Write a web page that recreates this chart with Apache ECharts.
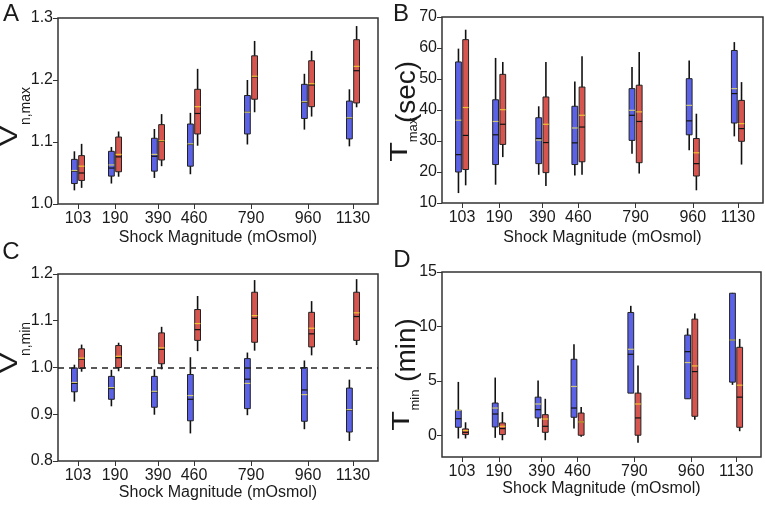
<!DOCTYPE html>
<html>
<head>
<meta charset="utf-8">
<script src="https://cdn.jsdelivr.net/npm/echarts@6/dist/echarts.min.js"></script>
<style>html,body{margin:0;padding:0;background:#fff}#c{width:765px;height:506px}</style>
</head>
<body>
<div id="c"></div>
<script>
// ---------- DATA ----------
const categories = ['103', '190', '390', '460', '790', '960', '1130'];
// each row: [lower whisker, Q1, median, Q3, upper whisker, mean]
const vnMaxBlue = [
  [1.022, 1.033, 1.053, 1.072, 1.085, 1.054],
  [1.033, 1.045, 1.058, 1.085, 1.092, 1.063],
  [1.042, 1.053, 1.077, 1.106, 1.121, 1.080],
  [1.048, 1.061, 1.096, 1.129, 1.147, 1.097],
  [1.096, 1.113, 1.148, 1.175, 1.200, 1.148],
  [1.120, 1.138, 1.164, 1.193, 1.210, 1.165],
  [1.093, 1.105, 1.138, 1.166, 1.185, 1.139]
];
const vnMaxRed = [
  [1.026, 1.038, 1.050, 1.078, 1.097, 1.061],
  [1.044, 1.052, 1.076, 1.108, 1.117, 1.080],
  [1.061, 1.071, 1.101, 1.128, 1.145, 1.102],
  [1.094, 1.113, 1.146, 1.185, 1.218, 1.157],
  [1.148, 1.169, 1.205, 1.239, 1.263, 1.206],
  [1.141, 1.157, 1.192, 1.231, 1.247, 1.194],
  [1.156, 1.163, 1.215, 1.265, 1.287, 1.222]
];
const tMaxBlue = [
  [13.2, 20.0, 25.6, 55.5, 59.8, 36.7],
  [15.9, 22.4, 32.0, 43.3, 56.8, 36.3],
  [19.1, 22.7, 30.8, 37.5, 41.2, 30.3],
  [18.9, 22.4, 29.4, 41.2, 49.2, 34.2],
  [25.9, 30.2, 38.3, 46.9, 53.9, 39.9],
  [27.0, 32.0, 36.5, 50.1, 56.0, 41.5],
  [31.5, 35.8, 45.3, 59.2, 61.9, 46.9]
];
const tMaxRed = [
  [15.7, 20.8, 31.8, 62.7, 65.9, 40.8],
  [24.8, 28.9, 35.4, 51.5, 55.5, 40.1],
  [15.5, 19.8, 29.5, 44.2, 55.5, 35.4],
  [19.1, 23.3, 34.5, 47.4, 57.3, 38.3],
  [19.5, 23.0, 36.3, 48.0, 58.7, 39.4],
  [14.1, 18.7, 22.7, 30.8, 38.8, 26.2],
  [22.4, 29.9, 34.0, 43.1, 49.0, 35.6]
];
const vnMinBlue = [
  [0.927, 0.948, 0.966, 0.999, 1.006, 0.968],
  [0.917, 0.932, 0.955, 0.981, 0.995, 0.957],
  [0.899, 0.915, 0.948, 0.981, 0.996, 0.949],
  [0.859, 0.886, 0.932, 0.985, 1.022, 0.940],
  [0.898, 0.912, 0.975, 1.019, 1.032, 0.966],
  [0.868, 0.885, 0.952, 1.000, 1.015, 0.942],
  [0.843, 0.862, 0.909, 0.956, 0.974, 0.910]
];
const vnMinRed = [
  [0.991, 0.998, 1.018, 1.040, 1.049, 1.020],
  [0.992, 1.000, 1.021, 1.047, 1.053, 1.024],
  [0.996, 1.008, 1.039, 1.074, 1.087, 1.042],
  [1.035, 1.058, 1.081, 1.124, 1.153, 1.094],
  [1.036, 1.054, 1.105, 1.161, 1.187, 1.111],
  [1.026, 1.044, 1.072, 1.118, 1.142, 1.084],
  [1.048, 1.058, 1.109, 1.161, 1.189, 1.117]
];
const tMinBlue = [
  [-0.30, 0.73, 1.52, 2.29, 4.90, 2.30],
  [-0.24, 0.76, 1.95, 2.96, 5.30, 2.50],
  [0.76, 1.59, 2.35, 3.50, 5.03, 2.87],
  [0.61, 1.65, 2.50, 6.98, 8.35, 4.48],
  [3.87, 3.87, 7.44, 11.28, 11.89, 7.90],
  [3.35, 3.35, 7.68, 9.20, 9.82, 6.68],
  [4.63, 4.88, 8.75, 13.05, 13.08, 8.75]
];
const tMinRed = [
  [-0.30, 0.06, 0.27, 0.58, 1.19, 0.43],
  [-0.46, 0.06, 0.61, 1.13, 2.13, 0.82],
  [-0.46, 0.27, 0.82, 1.89, 3.35, 1.49],
  [-0.15, 0.00, 1.22, 2.04, 2.59, 1.22],
  [-0.70, 0.00, 1.59, 3.87, 6.40, 2.87],
  [1.43, 1.74, 5.85, 10.67, 11.19, 6.37],
  [0.37, 0.73, 3.50, 8.08, 8.85, 4.60]
];
const yTicksA = [1.0, 1.1, 1.2, 1.3];
const yTicksB = [10, 20, 30, 40, 50, 60, 70];
const yTicksC = [0.8, 0.9, 1.0, 1.1, 1.2];
const yTicksD = [0, 5, 10, 15];
const refLineC = 1.0;

// ---------- LAYOUT ----------
// horizontal slot of each category on a 0..32 x scale (non-uniform spacing as in the figure)
const slotPos = [2.0, 5.7, 10.0, 13.6, 19.3, 25.0, 29.5];
const FONT = 'Liberation Sans, Arial, sans-serif';
const TXT = '#1a1a1a';
const BLUE = '#5b62e6', RED = '#d6554f';
const MEAN_BLUE = '#cfc67a', MEAN_RED = '#f5c030';

const panels = [
  {grid: {left: 58, top: 18, width: 320, height: 186}, y: [1.0, 1.3], ticks: yTicksA, dec: 1, blue: vnMaxBlue, red: vnMaxRed, gap: 26},
  {grid: {left: 442, top: 17, width: 321, height: 186}, y: [10, 70], ticks: yTicksB, dec: 0, blue: tMaxBlue, red: tMaxRed, gap: 27},
  {grid: {left: 58, top: 274, width: 320, height: 187}, y: [0.8, 1.2], ticks: yTicksC, dec: 1, blue: vnMinBlue, red: vnMinRed, gap: 21},
  {grid: {left: 442, top: 272, width: 319, height: 185}, y: [-2, 15], ticks: yTicksD, dec: 0, blue: tMinBlue, red: tMinRed, gap: 24}
];

function makeRender(dx, fill, meanColor) {
  return function (params, api) {
    const x = api.value(0);
    const p = i => api.coord([x, api.value(i)]);
    const cx = p(1)[0] + dx;
    const yLo = p(1)[1], yQ1 = p(2)[1], yMed = p(3)[1], yQ3 = p(4)[1], yHi = p(5)[1], yMean = p(6)[1];
    const hw = 2.9;
    return {
      type: 'group',
      children: [
        {type: 'line', shape: {x1: cx, y1: yHi, x2: cx, y2: yLo}, style: {stroke: '#111', lineWidth: 1.6}},
        {type: 'rect', shape: {x: cx - hw, y: yQ3, width: hw * 2, height: Math.max(yQ1 - yQ3, 0.5)}, style: {fill: fill, stroke: '#222', lineWidth: 1}},
        {type: 'line', shape: {x1: cx - hw, y1: yMed, x2: cx + hw, y2: yMed}, style: {stroke: '#111', lineWidth: 1.2}},
        {type: 'line', shape: {x1: cx - hw, y1: yMean, x2: cx + hw, y2: yMean}, style: {stroke: meanColor, lineWidth: 1.2}}
      ]
    };
  };
}

const grids = [], xAxes = [], yAxes = [], series = [];
panels.forEach((pn, k) => {
  grids.push(Object.assign({show: true, borderColor: '#333', borderWidth: 1.5, backgroundColor: 'transparent'}, pn.grid));
  xAxes.push({
    type: 'value', gridIndex: k, min: 0, max: 32,
    name: 'Shock Magnitude (mOsmol)', nameLocation: 'middle', nameGap: pn.gap,
    nameTextStyle: {fontFamily: FONT, fontSize: 16, color: TXT},
    axisLine: {show: false, onZero: false},
    axisTick: {show: true, length: 5, lineStyle: {color: '#333', width: 1}, customValues: slotPos},
    axisLabel: {customValues: slotPos, margin: 7, fontFamily: FONT, fontSize: 16, color: TXT,
      formatter: v => categories[slotPos.indexOf(v)] || ''},
    splitLine: {show: false}
  });
  yAxes.push({
    type: 'value', gridIndex: k, min: pn.y[0], max: pn.y[1],
    axisLine: {show: false, onZero: false},
    axisTick: {show: true, length: 5, lineStyle: {color: '#333', width: 1}, customValues: pn.ticks},
    axisLabel: {customValues: pn.ticks, margin: 5, fontFamily: FONT, fontSize: 16, color: TXT,
      formatter: v => Number(v).toFixed(pn.dec)},
    splitLine: {show: false}
  });
  series.push({
    type: 'custom', xAxisIndex: k, yAxisIndex: k, z: 2,
    renderItem: makeRender(-3.6, BLUE, MEAN_BLUE),
    encode: {x: 0, y: [1, 2, 3, 4, 5, 6]},
    data: pn.blue.map((r, i) => [slotPos[i]].concat(r))
  });
  series.push({
    type: 'custom', xAxisIndex: k, yAxisIndex: k, z: 2,
    renderItem: makeRender(3.6, RED, MEAN_RED),
    encode: {x: 0, y: [1, 2, 3, 4, 5, 6]},
    data: pn.red.map((r, i) => [slotPos[i]].concat(r))
  });
});
series.push({
  type: 'line', xAxisIndex: 2, yAxisIndex: 2, z: 10, data: [], silent: true,
  markLine: {
    silent: true, symbol: 'none', label: {show: false}, animation: false,
    lineStyle: {color: '#222', width: 1.5, type: [6, 5]},
    data: [{yAxis: refLineC}]
  }
});

function txt(x, y, text, size, opts) {
  opts = opts || {};
  return {
    type: 'text', x: x, y: y, rotation: opts.rot ? Math.PI / 2 : 0,
    scaleX: opts.sx || 1, scaleY: 1, silent: true, z: 20,
    style: {text: text, fontFamily: FONT, fontSize: size, fill: TXT, align: 'center', verticalAlign: 'middle'}
  };
}
const graphics = [
  txt(11, 14, 'A', 24), txt(401, 14, 'B', 24), txt(11, 252, 'C', 24), txt(402, 260, 'D', 24),
  txt(10.5, 136, 'V', 23, {rot: true, sx: 1.35}), txt(26, 106, 'n,max', 14, {rot: true}),
  txt(400.5, 152, 'T', 23, {rot: true, sx: 1.4}), txt(413, 130, 'max', 13, {rot: true}), txt(407, 92, '(sec)', 28, {rot: true}),
  txt(10.5, 363, 'V', 23, {rot: true, sx: 1.35}), txt(26, 339, 'n,min', 14, {rot: true}),
  txt(402.5, 421, 'T', 23, {rot: true, sx: 1.4}), txt(415, 400, 'min', 13, {rot: true}), txt(407, 350, '(min)', 28, {rot: true})
];

const chart = echarts.init(document.getElementById('c'), null, {renderer: 'canvas'});
chart.setOption({
  animation: false,
  backgroundColor: '#fff',
  grid: grids, xAxis: xAxes, yAxis: yAxes, series: series,
  graphic: graphics
});
</script>
</body>
</html>
